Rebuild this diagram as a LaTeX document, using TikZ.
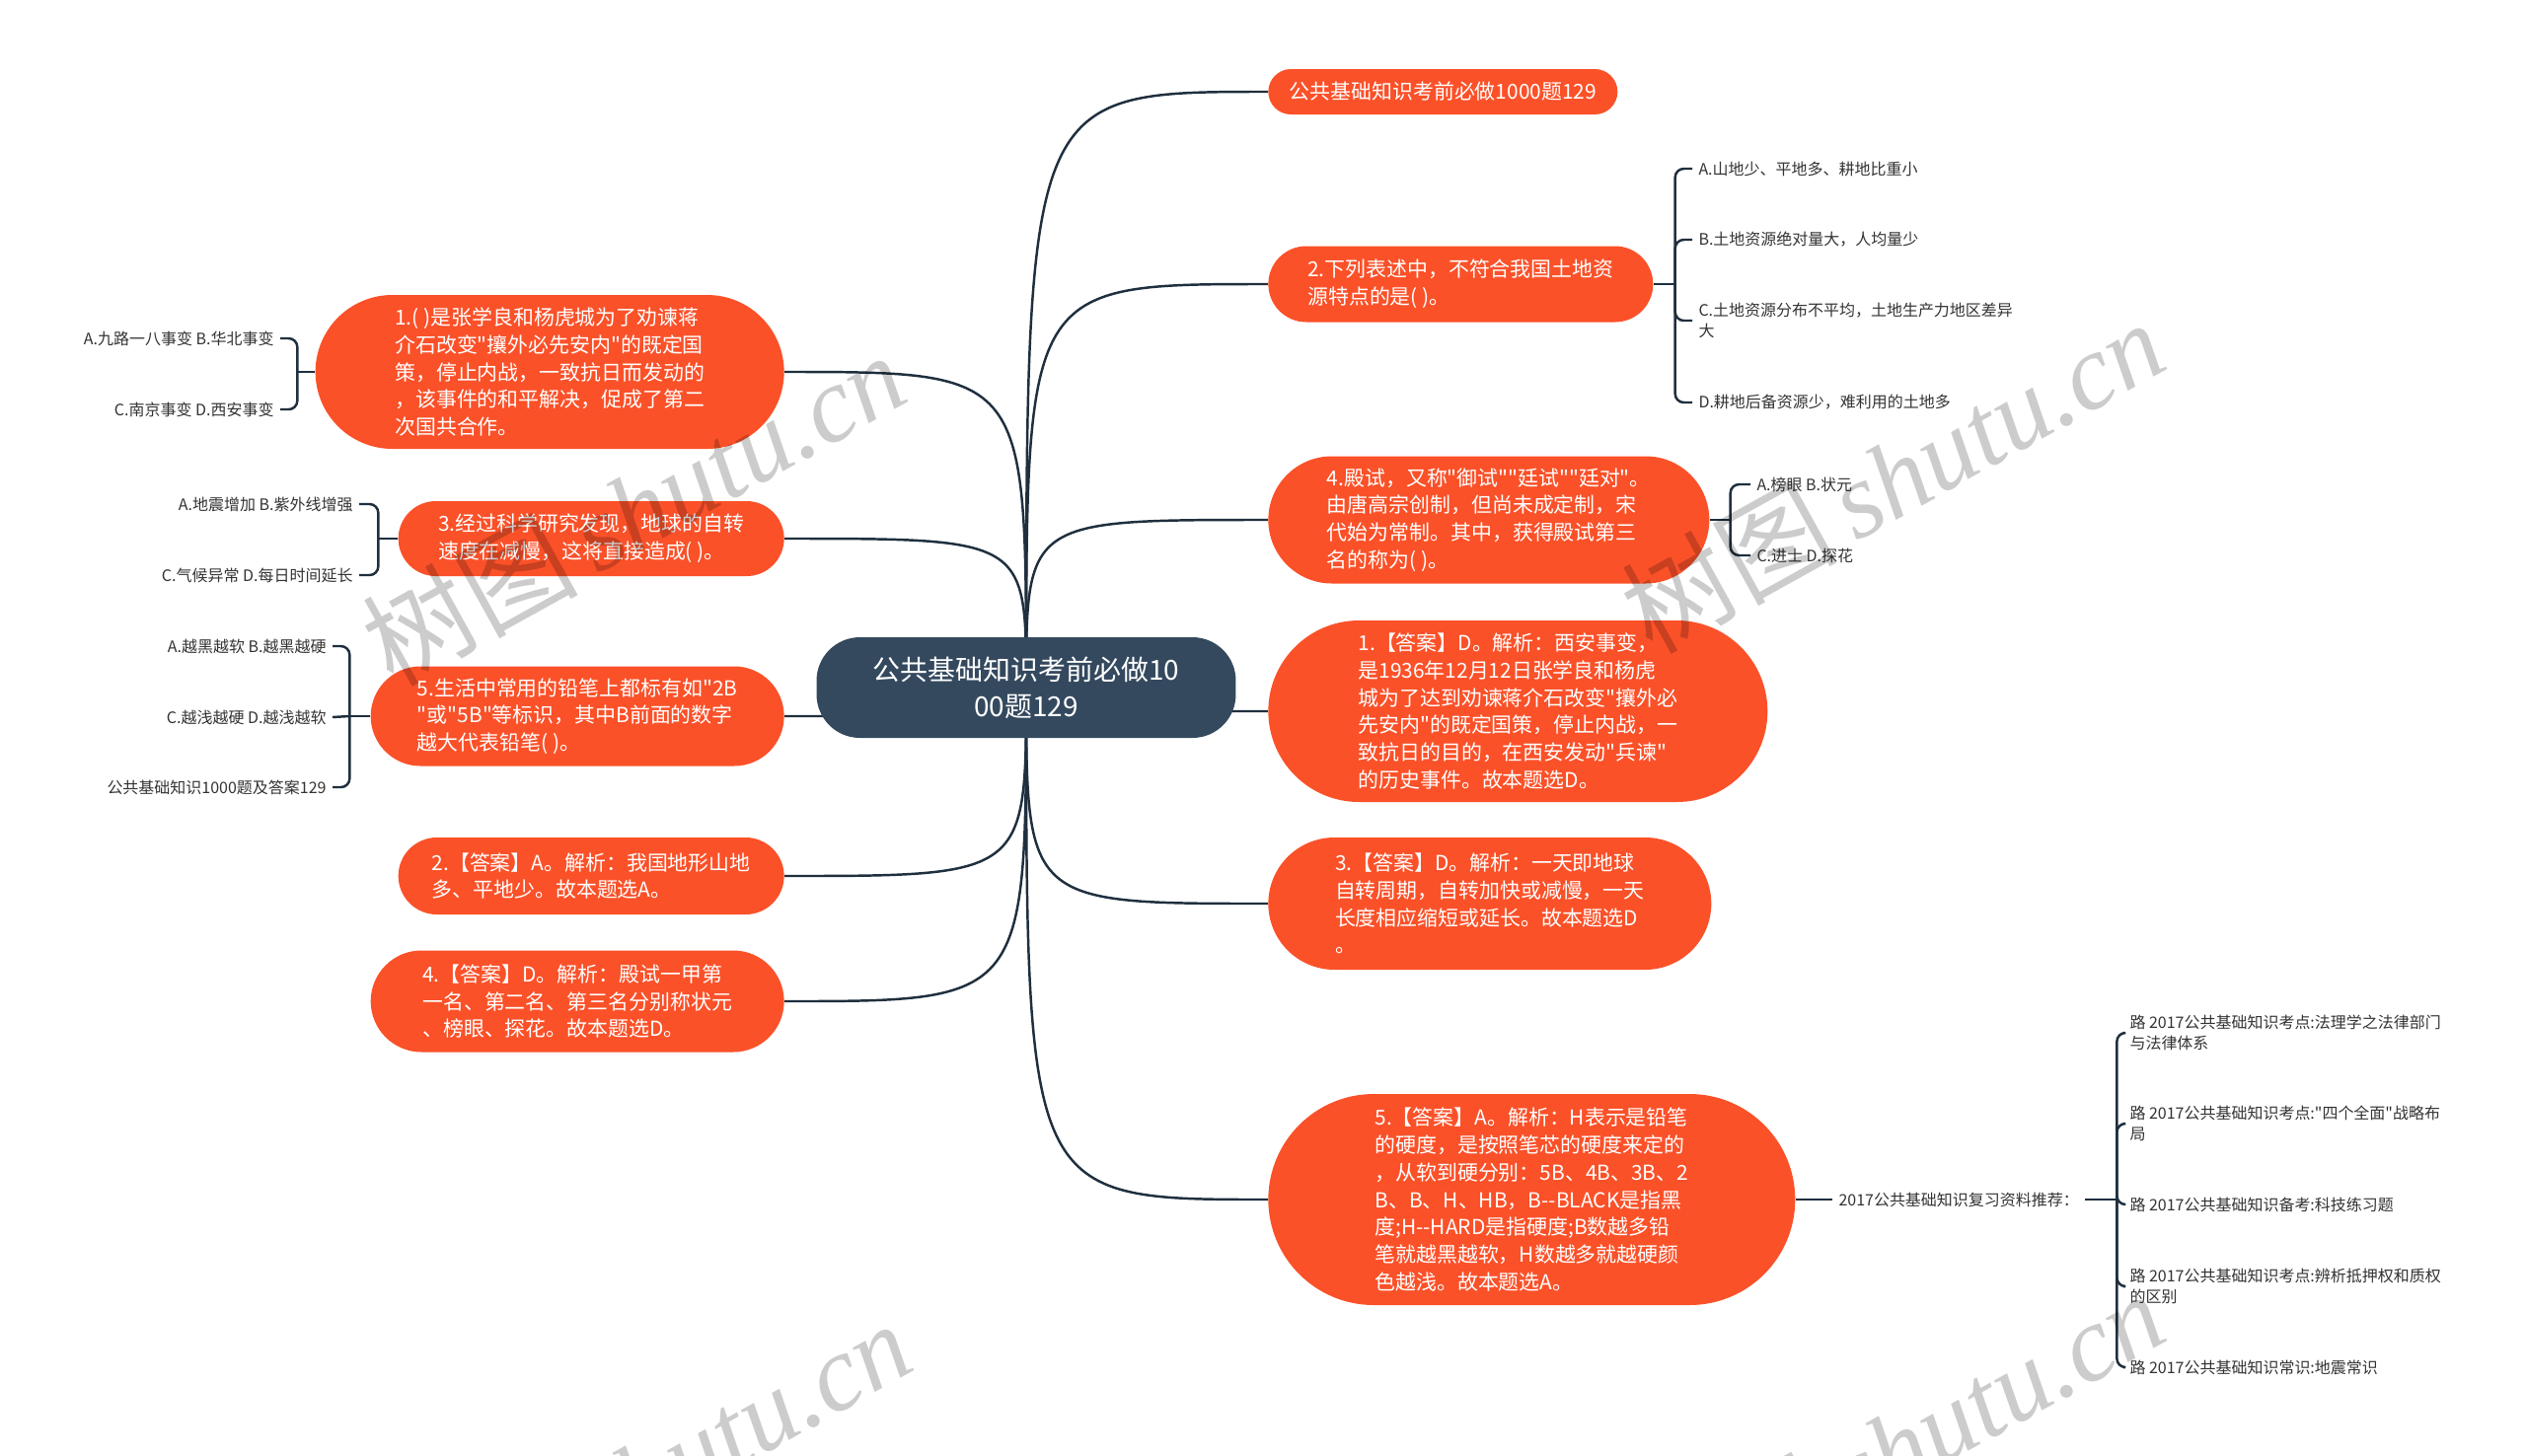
\documentclass[tikz,border=0pt]{standalone}
\usepackage{fontspec}
\setmainfont{Noto Sans CJK SC}[Ligatures=TeXOff]
\newfontfamily\markfont{Liberation Serif}
\usepackage{xcolor}
\usetikzlibrary{shapes.misc,backgrounds}
\definecolor{red500}{HTML}{FB5129}
\definecolor{slate800}{HTML}{34495E}
\definecolor{slate900}{HTML}{1F2F3E}
\definecolor{gray800}{HTML}{333333}
\newcommand{\hubsize}{\fontsize{15.9}{21.3}\selectfont}
\newcommand{\topicsize}{\fontsize{11.9}{15.8}\selectfont}
\newcommand{\leafsize}{\fontsize{9.1}{11.9}\selectfont}
\tikzset{
  every node/.style={font=\topicsize},
  hub/.style={
    rectangle, rounded corners=25pt,
    fill=slate800, text=white,
    minimum width=8.5cm, minimum height=2.04cm,
    align=center, font=\hubsize
  },
  topic/.style 2 args={
    rounded rectangle, fill=red500, text=white,
    inner sep=2pt, align=left,
    minimum width=#1*0.02cm, minimum height=#2*0.02cm
  },
  leaf/.style={
    inner xsep=3.5pt, inner ysep=1pt, align=left, text=gray800, font=\leafsize
  },
  conn/.style={draw=slate900, line width=1.4pt},
  bracket/.style={draw=slate900, line width=1.4pt, rounded corners=5pt},
  wmark/.style={rotate=29, text=black, opacity=0.2, font=\fontsize{62}{62}\selectfont},
}

\begin{document}
\begin{tikzpicture}[x=0.02cm, y=-0.02cm]
  \useasboundingbox (0,0) rectangle (2560,1475);

  % central topic
  \node[hub] (hub) at (1040,697) {公共基础知识考前必做10\\00题129};

  % right branches
  \node[topic={361}{46}, anchor=west] (r0) at (1285,93) {公共基础知识考前必做1000题129};
  \node[topic={397}{77}, anchor=west] (r2) at (1285,288) {2.下列表述中，不符合我国土地资\\源特点的是( )。};
  \node[topic={454}{129}, anchor=west] (r4) at (1285,527) {4.殿试，又称"御试""廷试""廷对"。\\由唐高宗创制，但尚未成定制，宋\\代始为常制。其中，获得殿试第三\\名的称为( )。};
  \node[topic={513}{184}, anchor=west] (r1a) at (1285,721) {1.【答案】D。解析：西安事变，\\是1936年12月12日张学良和杨虎\\城为了达到劝谏蒋介石改变"攘外必\\先安内"的既定国策，停止内战，一\\致抗日的目的，在西安发动"兵谏"\\的历史事件。故本题选D。};
  \node[topic={456}{134}, anchor=west] (r3a) at (1285,916) {3.【答案】D。解析：一天即地球\\自转周期，自转加快或减慢，一天\\长度相应缩短或延长。故本题选D\\。};
  \node[topic={541}{214}, anchor=west] (r5a) at (1285,1216) {5.【答案】A。解析：H表示是铅笔\\的硬度，是按照笔芯的硬度来定的\\，从软到硬分别：5B、4B、3B、2\\B、B、H、HB，B--BLACK是指黑\\度;H--HARD是指硬度;B数越多铅\\笔就越黑越软，H数越多就越硬颜\\色越浅。故本题选A。};

  % left branches
  \node[topic={482}{156}, anchor=east] (l1) at (795,377) {1.( )是张学良和杨虎城为了劝谏蒋\\介石改变"攘外必先安内"的既定国\\策，停止内战，一致抗日而发动的\\，该事件的和平解决，促成了第二\\次国共合作。};
  \node[topic={398}{76}, anchor=east] (l3) at (795,546) {3.经过科学研究发现，地球的自转\\速度在减慢，这将直接造成( )。};
  \node[topic={426}{101}, anchor=east] (l5) at (795,726) {5.生活中常用的铅笔上都标有如"2B\\"或"5B"等标识，其中B前面的数字\\越大代表铅笔( )。};
  \node[topic={398}{78}, anchor=east] (l2a) at (795,888) {2.【答案】A。解析：我国地形山地\\多、平地少。故本题选A。};
  \node[topic={426}{103}, anchor=east] (l4a) at (795,1015) {4.【答案】D。解析：殿试一甲第\\一名、第二名、第三名分别称状元\\、榜眼、探花。故本题选D。};

  % options
  \node[leaf, anchor=east] (l1x) at (284,343) {A.九路一八事变 B.华北事变};
  \node[leaf, anchor=east] (l1y) at (284,415) {C.南京事变 D.西安事变};
  \node[leaf, anchor=east] (l3x) at (364,511) {A.地震增加 B.紫外线增强};
  \node[leaf, anchor=east] (l3y) at (364,583) {C.气候异常 D.每日时间延长};
  \node[leaf, anchor=east] (l5x) at (337,655) {A.越黑越软 B.越黑越硬};
  \node[leaf, anchor=east] (l5y) at (337,727) {C.越浅越硬 D.越浅越软};
  \node[leaf, anchor=east] (l5z) at (337,798) {公共基础知识1000题及答案129};
  \node[leaf, anchor=west] (r2w) at (1715,171) {A.山地少、平地多、耕地比重小};
  \node[leaf, anchor=west] (r2x) at (1715,243) {B.土地资源绝对量大，人均量少};
  \node[leaf, anchor=west] (r2y) at (1715,325) {C.土地资源分布不平均，土地生产力地区差异\\大};
  \node[leaf, anchor=west] (r2z) at (1715,408) {D.耕地后备资源少，难利用的土地多};
  \node[leaf, anchor=west] (r4x) at (1774,491) {A.榜眼 B.状元};
  \node[leaf, anchor=west] (r4y) at (1774,563) {C.进士 D.探花};
  \node[leaf, anchor=west] (rec) at (1857,1216) {2017公共基础知识复习资料推荐：};
  \node[leaf, anchor=west] (rec1) at (2152,1047) {路 2017公共基础知识考点:法理学之法律部门\\与法律体系};
  \node[leaf, anchor=west] (rec2) at (2152,1139) {路 2017公共基础知识考点:"四个全面"战略布\\局};
  \node[leaf, anchor=west] (rec3) at (2152,1221) {路 2017公共基础知识备考:科技练习题};
  \node[leaf, anchor=west] (rec4) at (2152,1304) {路 2017公共基础知识考点:辨析抵押权和质权\\的区别};
  \node[leaf, anchor=west] (rec5) at (2152,1386) {路 2017公共基础知识常识:地震常识};

  \begin{scope}[on background layer]
    \fill[white] (0,0) rectangle (2560,1475);
    \foreach \t in {r0,r2,r4,r1a,r3a,r5a}
      \draw[conn] (hub.center) .. controls (hub.center |- \t.west) .. (\t.west);
    \foreach \t in {l1,l3,l5,l2a,l4a}
      \draw[conn] (hub.center) .. controls (hub.center |- \t.east) .. (\t.east);
    \draw[conn] (r5a.east) -- (rec.west);
  \end{scope}

  % option brackets
  \draw[conn] (l1.west) -- ++(-18,0) coordinate (l1j);
  \draw[bracket] (l1j) |- (l1x.east);
  \draw[bracket] (l1j) |- (l1y.east);
  \draw[conn] (l3.west) -- ++(-20,0) coordinate (l3j);
  \draw[bracket] (l3j) |- (l3x.east);
  \draw[bracket] (l3j) |- (l3y.east);
  \draw[conn] (l5.west) -- ++(-21,0) coordinate (l5j);
  \draw[bracket] (l5j) |- (l5x.east);
  \draw[bracket] (l5j) -- (l5y.east);
  \draw[bracket] (l5j) |- (l5z.east);
  \draw[conn] (r2.east) -- ++(22,0) coordinate (r2j);
  \foreach \c in {r2w,r2x,r2y,r2z}
    \draw[bracket] (r2j) |- (\c.west);
  \draw[conn] (r4.east) -- ++(21,0) coordinate (r4j);
  \draw[bracket] (r4j) |- (r4x.west);
  \draw[bracket] (r4j) |- (r4y.west);
  \draw[conn] (rec.east) -- ++(32,0) coordinate (recj);
  \foreach \c in {rec1,rec2,rec3,rec4,rec5}
    \draw[bracket] (recj) |- (\c.west);

  % watermarks
  \foreach \wx/\wy [count=\i] in {642/515, 1918/482, 648/1497, 1918/1467}
    \node[wmark] (wm\i) at (\wx,\wy) {树图\,{\markfont\itshape shutu.cn}};
\end{tikzpicture}
\end{document}
